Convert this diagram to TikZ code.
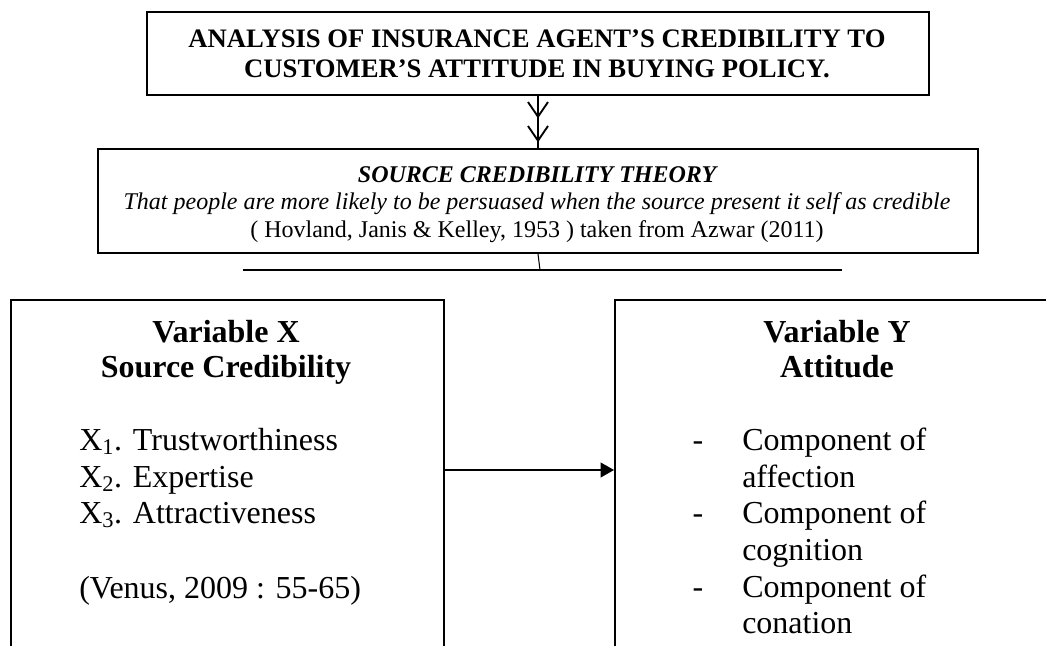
\documentclass[tikz,border=0pt]{standalone}
\usepackage{fontspec}
\setmainfont{Liberation Serif}
\usetikzlibrary{arrows.meta,decorations.markings}
\begin{document}
\begin{tikzpicture}[x=0.75pt,y=-0.75pt,
  frame/.style={draw, line width=1.4pt, inner sep=0pt, rectangle},
  ttl/.style={font=\fontsize{20}{24}\selectfont\bfseries, anchor=base, inner sep=0pt},
  thy/.style={font=\fontsize{18}{21}\selectfont, anchor=base, inner sep=0pt},
  head/.style={font=\fontsize{24}{28}\selectfont\bfseries, anchor=base, inner sep=0pt},
  item/.style={font=\fontsize{24}{28}\selectfont, anchor=base west, inner sep=0pt},
  dashitem/.style={font=\fontsize{24}{28}\selectfont, anchor=base, inner sep=0pt},
  conn/.style={line width=1.4pt},
  chev/.style={line width=1.4pt, postaction={decorate},
    decoration={markings,
      mark=at position 0.43 with {\arrow{Straight Barb[length=11pt,width=15pt]}},
      mark=at position 0.89 with {\arrow{Straight Barb[length=11pt,width=15pt]}}}},
]
\useasboundingbox (0,0) rectangle (1046,646);
\clip (0,0) rectangle (1046,646);

% boxes
\node[frame, minimum width=586.5pt, minimum height=62.25pt] (top) at (538,53.5) {};
\node[frame, minimum width=660pt, minimum height=78pt] (theory) at (538,201) {};
\node[frame, minimum width=324.75pt, minimum height=300pt, anchor=north west] (xbox) at (10,299) {};
\node[frame, minimum width=345pt, minimum height=300pt, anchor=north west] (ybox) at (614,299) {};

% title
\node[ttl] (t1) at (537,47) {ANALYSIS OF INSURANCE AGENT’S CREDIBILITY TO};
\node[ttl] (t2) at (537,77) {CUSTOMER’S ATTITUDE IN BUYING POLICY.};

% theory
\node[thy] (h1) at (538,182) {\textbf{\textit{SOURCE CREDIBILITY THEORY}}};
\node[thy] (h2) at (537,209.5) {\textit{That people are more likely to be persuased when the source present it self as credible}};
\node[thy] (h3) at (537,237) {( Hovland, Janis \& Kelley, 1953 ) taken from Azwar (2011)};

% connectors
\draw[chev] (top.south) -- (theory.north);
\coordinate (barL) at (243,270);
\coordinate (barR) at (842,270);
\coordinate (barM) at (540,270);
\draw[conn] (barL) -- (barR);
\draw[line width=0.8pt] (theory.south) -- (barM);
\coordinate (ay) at (0,470);
\draw[conn,-{Triangle[length=10pt,width=11pt]}] (xbox.east |- ay) -- (ybox.west |- ay);

% left box text
\node[head] (xa) at (226,342) {Variable X};
\node[head] (xb) at (226,377) {Source Credibility};
\node[item] (x1) at (79,450) {X\textsubscript{1}. Trustworthiness};
\node[item] (x2) at (79,487) {X\textsubscript{2}. Expertise};
\node[item] (x3) at (79,523) {X\textsubscript{3}. Attractiveness};
\node[item] (xv) at (79,598) {(Venus, 2009 : 55-65)};

% right box text
\node[head] (ya) at (837,342) {Variable Y};
\node[head] (yb) at (837,377) {Attitude};
\node[dashitem] (d1) at (698,450) {-};
\node[dashitem] (d2) at (698,523) {-};
\node[dashitem] (d3) at (698,597) {-};
\node[item] (y1) at (742,450) {Component of};
\node[item] (y2) at (742,487) {affection};
\node[item] (y3) at (742,523) {Component of};
\node[item] (y4) at (742,560) {cognition};
\node[item] (y5) at (742,597) {Component of};
\node[item] (y6) at (742,633) {conation};
\end{tikzpicture}
\end{document}
